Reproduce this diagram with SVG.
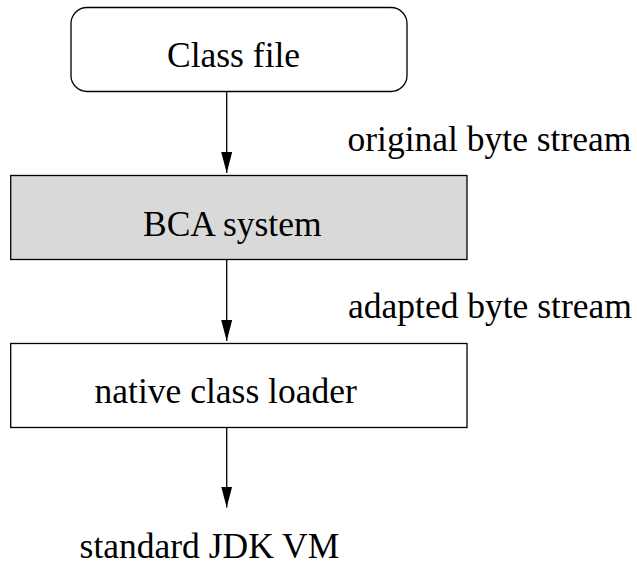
<svg xmlns="http://www.w3.org/2000/svg" width="637" height="565" viewBox="0 0 637 565">
  <style>
    .box { stroke: #000; stroke-width: 1.3; fill: #fff; }
    .shaded { fill: #d9d9d9; }
    .lbl { font-family: "Liberation Serif", "Times New Roman", serif; font-size: 35.5px; fill: #000; }
    .edge { stroke: #000; stroke-width: 1.3; fill: none; }
  </style>
  <defs>
    <!-- filled triangular arrowhead, tip at the end of the line -->
    <marker id="arrow" viewBox="0 0 21 11" refX="21" refY="5.5" markerWidth="21" markerHeight="11" markerUnits="userSpaceOnUse" orient="auto">
      <path d="M0,0 L21,5.5 L0,11 Z" fill="#000"/>
    </marker>
  </defs>

  <rect width="637" height="565" fill="#fff"/>

  <g id="class-file">
    <rect class="box" x="71" y="7.5" width="336" height="84" rx="16" ry="16"/>
    <text class="lbl" x="167" y="67">Class file</text>
  </g>

  <g id="bca-system">
    <rect class="box shaded" x="10.7" y="175.5" width="456.3" height="84"/>
    <text class="lbl" x="143" y="235.5">BCA system</text>
  </g>

  <g id="native-class-loader">
    <rect class="box" x="10.7" y="343.5" width="456.3" height="84"/>
    <text class="lbl" x="94.6" y="403">native class loader</text>
  </g>

  <g id="standard-jdk-vm">
    <text class="lbl" x="79.6" y="557.5">standard JDK VM</text>
  </g>

  <g id="connectors">
    <path class="edge" d="M226.7,91.5 V173" marker-end="url(#arrow)"/>
    <path class="edge" d="M226.7,259.5 V341" marker-end="url(#arrow)"/>
    <path class="edge" d="M226.7,427.5 V507.5" marker-end="url(#arrow)"/>
    <text class="lbl" x="347.5" y="151">original byte stream</text>
    <text class="lbl" x="348" y="318">adapted byte stream</text>
  </g>
</svg>
